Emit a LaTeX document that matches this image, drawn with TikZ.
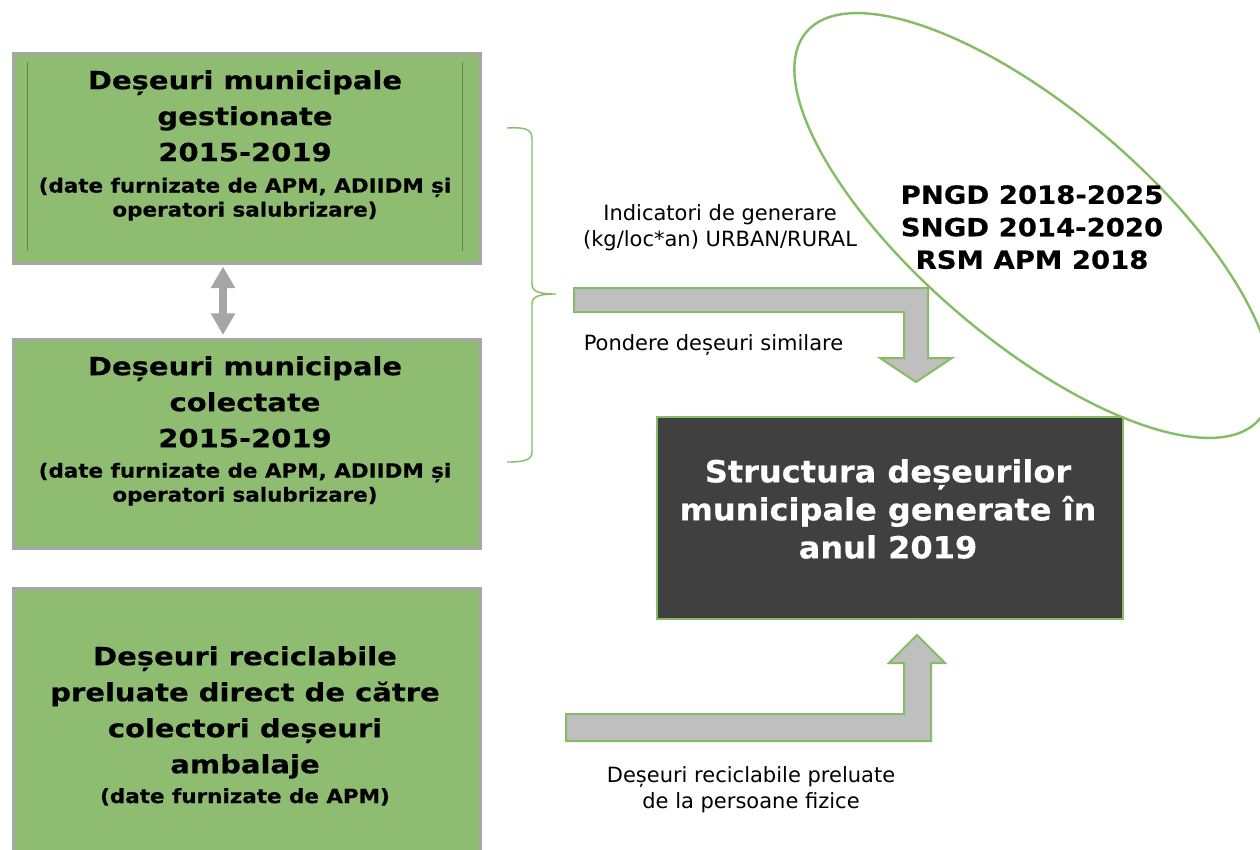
\documentclass[tikz,border=0pt]{standalone}
\usepackage{fontspec}
\setmainfont{DejaVu Sans}
\newfontfamily\bfx{DejaVu Sans}[FakeStretch=1.1,FakeBold=0.4]
\newfontfamily\bfw{DejaVu Sans}[FakeStretch=1.16,FakeBold=0.4]
\newfontfamily\bfd{DejaVu Sans}[FakeStretch=1.05,FakeBold=0.4]
\usetikzlibrary{shapes.geometric,arrows.meta}
\definecolor{boxgreen}{RGB}{142,188,113}
\definecolor{lgreen}{RGB}{132,189,100}
\definecolor{boxgray}{RGB}{166,166,166}
\definecolor{arrgray}{RGB}{191,191,191}
\definecolor{darkfill}{RGB}{64,64,64}
\definecolor{innerg}{RGB}{95,135,65}
\tikzset{
  gbox/.style={draw=boxgray, line width=3pt, fill=boxgreen, anchor=north west, inner sep=0pt},
  ttl/.style={font=\bfw\bfseries\fontsize{25}{36}\selectfont, align=center, inner sep=0pt, anchor=north},
  sub/.style={font=\bfx\bfseries\fontsize{19.5}{24}\selectfont, align=center, inner sep=0pt, anchor=north},
  lbl/.style={font=\fontsize{21}{26.5}\selectfont, align=center, inner sep=0pt},
  barrow/.style={fill=arrgray, draw=lgreen, line width=2pt, line join=miter},
  dbl/.style={draw=boxgray, line width=7.4pt, {Triangle[width=23pt,length=21.6pt]}-{Triangle[width=23pt,length=21.6pt]}},
  brace/.style={draw=lgreen, line width=1.4pt},
}
\begin{document}
\begin{tikzpicture}[x=1pt,y=-1pt]
\useasboundingbox (0,0) rectangle (1260,849);
\clip (0,0) rectangle (1260,849);
\fill[white] (0,0) rectangle (1260,849);

% green boxes
\node[gbox, minimum width=467pt, minimum height=210pt] (b1) at (11.5,51.5) {};
\node[gbox, minimum width=467pt, minimum height=209pt] (b2) at (11.5,337.5) {};
\node[gbox, minimum width=467pt, minimum height=300pt] (b3) at (11.5,586.5) {};
\draw[innerg, line width=0.8pt] (27,62) -- (27,251);
\draw[innerg, line width=0.8pt] (462,62) -- (462,251);

% texts in green boxes
\node[ttl] (t1a) at (245,70) {Deșeuri municipale\\gestionate\\2015-2019};
\node[sub] (t1b) at (245,177.5) {(date furnizate de APM, ADIIDM și\\operatori salubrizare)};
\node[ttl] (t2a) at (245,356) {Deșeuri municipale\\colectate\\2015-2019};
\node[sub] (t2b) at (245,462.6) {(date furnizate de APM, ADIIDM și\\operatori salubrizare)};
\node[ttl] (t3a) at (245,646) {Deșeuri reciclabile\\preluate direct de către\\colectori deșeuri\\ambalaje};
\node[sub] (t3b) at (245,788) {(date furnizate de APM)};

% double arrow
\coordinate (d1) at (223,266.5);
\coordinate (d2) at (223,335);
\draw[dbl] (d1) -- (d2);

% brace
\draw[brace] (507,128) .. controls (524,127) and (532,129) .. (532,138)
  -- (532,284) .. controls (532,292) and (540,294) .. (556,294)
  .. controls (540,294) and (532,296) .. (532,304)
  -- (532,452) .. controls (532,460) and (524,462) .. (507,462);

% result box
\node[draw=lgreen, line width=2.5pt, fill=darkfill, anchor=north west, inner sep=0pt,
      minimum width=466pt, minimum height=202pt] (res) at (655.5,415.5) {};
\node[font=\bfd\bfseries\fontsize{30.5}{38}\selectfont, text=white, align=center, inner sep=0pt, anchor=north]
  (rest) at (888,459) {Structura deșeurilor\\municipale generate în\\anul 2019};

% bent arrows
\draw[barrow] (574,288) -- (928,288) -- (928,358) -- (952,358) -- (916,382) -- (880,358)
  -- (904,358) -- (904,312) -- (574,312) -- cycle;
\draw[barrow] (566,741) -- (931,741) -- (931,663) -- (945,663) -- (917,635) -- (889,663)
  -- (904,663) -- (904,714) -- (566,714) -- cycle;

% labels
\node[lbl, anchor=north] (l1) at (720,204) {Indicatori de generare\\(kg/loc*an) URBAN/RURAL};
\node[lbl, anchor=base] (l2) at (713.5,350) {Pondere deșeuri similare};
\node[lbl, anchor=north] (l3) at (751,766) {Deșeuri reciclabile preluate\\de la persoane fizice};

% ellipse
\node[draw=lgreen, line width=2.4pt, ellipse, inner sep=0pt, minimum width=596pt, minimum height=230pt,
      rotate=-40.5] (ell) at (1033,225.5) {};
\node[font=\bfx\bfseries\fontsize{25}{32.5}\selectfont, align=center, inner sep=0pt, anchor=north]
  (ellt) at (1032,185) {PNGD 2018-2025\\SNGD 2014-2020\\RSM APM 2018};
\end{tikzpicture}
\end{document}
